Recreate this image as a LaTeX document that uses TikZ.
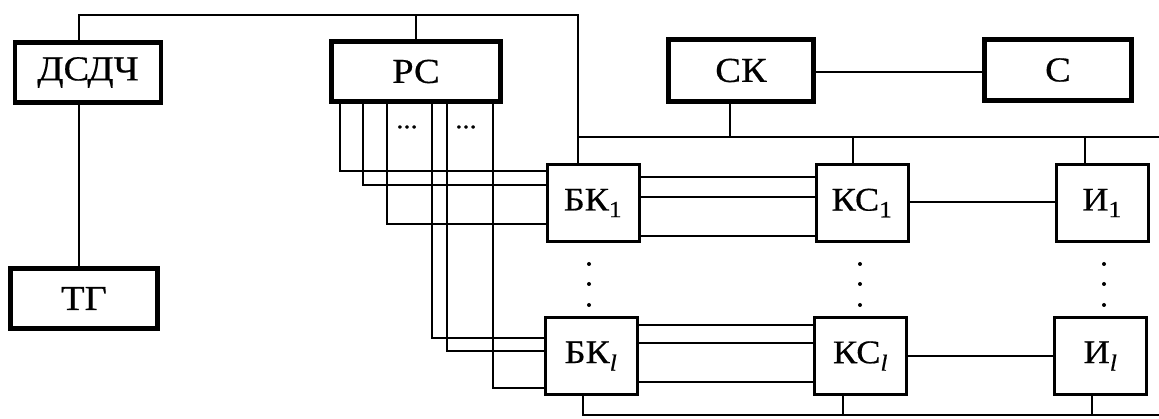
\documentclass[tikz,border=0pt]{standalone}
\usepackage{fontspec}
\setmainfont{Liberation Serif}
\newfontfamily\widefont[FakeStretch=1.1,FakeBold=0.5]{Liberation Serif}
\begin{document}
\begin{tikzpicture}[x=1pt,y=-1pt,
  bigbox/.style={draw,line width=4.4pt,inner sep=0pt,font=\widefont\fontsize{35}{38}\selectfont},
  smallbox/.style={draw,line width=3pt,inner sep=0pt,minimum width=92pt,minimum height=77pt,font=\widefont\fontsize{33}{36}\selectfont},
  conn/.style={line width=2.2pt},
  dotlabel/.style={inner sep=0pt,font=\widefont\fontsize{26}{26}\selectfont},
  vdot/.style={fill=black}]
\fill[white] (0,0) rectangle (1159,419);
\useasboundingbox (0,0) rectangle (1159,419);

% main boxes
\node[bigbox,minimum width=146pt,minimum height=60pt] (dsdch) at (88,72.5) {ДСДЧ};
\node[bigbox,minimum width=169pt,minimum height=60pt] (rs) at (416,71.5) {РС};
\node[bigbox,minimum width=145pt,minimum height=62pt] (sk) at (741,70.5) {СК};
\node[bigbox,minimum width=147pt,minimum height=61pt] (s) at (1058,70) {С};
\node[bigbox,minimum width=147pt,minimum height=60pt] (tg) at (84,298.5) {ТГ};

\node[smallbox] (bk1) at (593,203) {БК\textsubscript{1}};
\node[smallbox] (ks1) at (862,203) {КС\textsubscript{1}};
\node[smallbox] (i1) at (1102,203) {И\textsubscript{1}};
\node[smallbox] (bkl) at (591,356) {БК\textsubscript{\textit{l}}};
\node[smallbox] (ksl) at (860.5,356) {КС\textsubscript{\textit{l}}};
\node[smallbox] (il) at (1100.5,356) {И\textsubscript{\textit{l}}};

% helper coordinates
\coordinate (top) at (578,15);
\coordinate (bus) at (578,137);
\coordinate (busend) at (1159,137);
\coordinate (bot) at (583,415);
\coordinate (botend) at (1159,415);
\foreach \xx in {79,340,363,387,432,447,493,730,853,1085,843,1092} {\coordinate (x\xx) at (\xx,0);}
\foreach \yy in {171,185,224,338,351,388,177,197,236,325,343,382,202,356,72} {\coordinate (y\yy) at (0,\yy);}

% top loop
\draw[conn] (dsdch.north -| x79) |- (top) -- (bk1.north -| top);
\draw[conn] (rs.north) -- (rs.north |- top);
\draw[conn] (dsdch.south -| x79) -- (tg.north -| x79);

% bus
\draw[conn] (bus) -- (busend);
\draw[conn] (sk.south -| x730) -- (bus -| x730);
\draw[conn] (ks1.north -| x853) -- (bus -| x853);
\draw[conn] (i1.north -| x1085) -- (bus -| x1085);
\draw[conn] (sk.east |- y72) -- (s.west |- y72);

% RS outputs
\draw[conn] (rs.south -| x340) |- (y171 -| bk1.west);
\draw[conn] (rs.south -| x363) |- (y185 -| bk1.west);
\draw[conn] (rs.south -| x387) |- (y224 -| bk1.west);
\draw[conn] (rs.south -| x432) |- (y338 -| bkl.west);
\draw[conn] (rs.south -| x447) |- (y351 -| bkl.west);
\draw[conn] (rs.south -| x493) |- (y388 -| bkl.west);
\node[dotlabel] (d1) at (407,127) {...};
\node[dotlabel] (d2) at (466,127) {...};

% BK -> KS
\foreach \yy in {177,197,236} {\draw[conn] (y\yy -| bk1.east) -- (y\yy -| ks1.west);}
\foreach \yy in {325,343,382} {\draw[conn] (y\yy -| bkl.east) -- (y\yy -| ksl.west);}
\draw[conn] (ks1.east |- y202) -- (i1.west |- y202);
\draw[conn] (ksl.east |- y356) -- (il.west |- y356);

% bottom bus
\draw[conn] (bkl.south -| bot) -- (bot) -- (botend);
\draw[conn] (ksl.south -| x843) -- (bot -| x843);
\draw[conn] (il.south -| x1092) -- (bot -| x1092);

% vertical dots
\foreach \xx in {589,860,1104} {
  \foreach \yy in {264,284,305} {\fill[vdot] (\xx,\yy) circle (2pt);}
}
\end{tikzpicture}
\end{document}
